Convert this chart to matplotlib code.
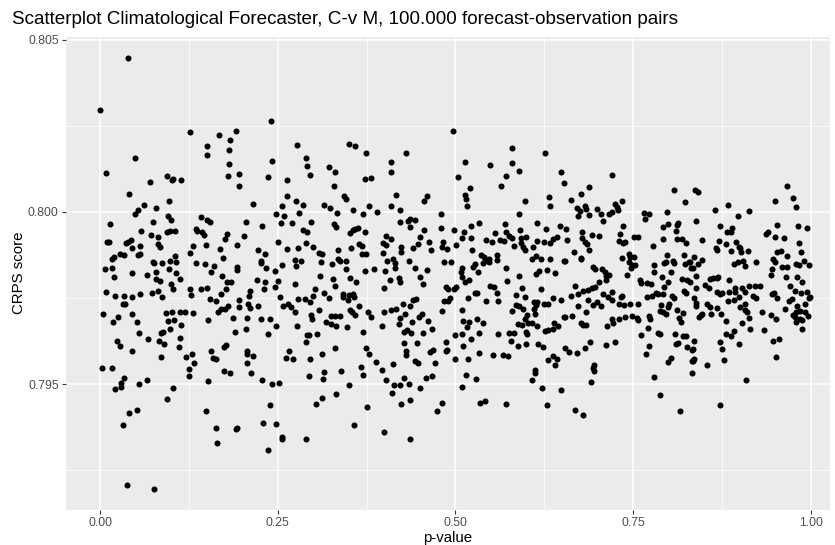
import matplotlib
matplotlib.use("Agg")
import matplotlib.pyplot as plt
from matplotlib.ticker import FixedLocator

plt.rcParams['font.family'] = ['Liberation Sans', 'DejaVu Sans']

title = "Scatterplot Climatological Forecaster, C-v M, 100.000 forecast-observation pairs"
x_label = "p-value"
y_label = "CRPS score"
x_ticks = [0.00, 0.25, 0.50, 0.75, 1.00]
x_tick_labels = ["0.00", "0.25", "0.50", "0.75", "1.00"]
y_ticks = [0.795, 0.800, 0.805]
y_tick_labels = ["0.795", "0.800", "0.805"]

# points, strip by strip (left to right)
p_a = [0.0389,0.0000,0.1267,0.0488,0.0080,0.0943,0.1009,0.1027,0.1145,0.0704,0.0404,0.0967,0.0624,0.0793,0.0530,0.0493,0.0141,0.0741,0.0952,0.1004,0.0577,0.0938,0.0985,0.1060,0.0099,0.0127,0.0361,0.0399,0.0436,0.0723,0.0812,0.0558,0.0451,0.0812,0.0845,0.0282,0.0338,0.0202,0.0165,0.0530,0.0568,0.1051,0.1262,0.0741,0.0765,0.0877,0.0985,0.1074,0.0066,0.0169,0.0455,0.0657,0.0788,0.0971,0.1065,
       0.0193,0.0788,0.0840,0.1126,0.1000,0.1028,0.1271,0.1281,0.0085,0.0216,0.0334,0.0451,0.0558,0.0737,0.0816,0.0873,0.0329,0.0347,0.0047,0.0188,0.0254,0.0446,0.0512,0.0929,0.1009,0.1121,0.1196,0.0952,0.1042,0.1140,0.0545,0.0671,0.0854,0.0887,0.0981,0.1126,0.0235,0.0282,0.0455,0.0831,0.0892,0.1103,0.0850,0.1215,0.1290,0.0029,0.0174,0.1248,0.1248,0.0338,0.0291,0.0291,0.0216,0.0554,0.0657,0.1028,0.0948,0.0526,0.0413,0.0324,0.0380,0.0755]
crps_a = [0.80447,0.80295,0.80232,0.80158,0.80113,0.80105,0.80093,0.80097,0.80092,0.80087,0.80053,0.80031,0.80020,0.80013,0.80005,0.79994,0.79966,0.79972,0.79988,0.79978,0.79945,0.79941,0.79946,0.79946,0.79913,0.79913,0.79909,0.79913,0.79918,0.79932,0.79926,0.79902,0.79896,0.79908,0.79898,0.79878,0.79874,0.79868,0.79862,0.79874,0.79877,0.79873,0.79880,0.79856,0.79851,0.79851,0.79859,0.79854,0.79835,0.79836,0.79823,0.79818,0.79825,0.79834,0.79823,
          0.79811,0.79805,0.79800,0.79806,0.79790,0.79776,0.79777,0.79759,0.79767,0.79755,0.79755,0.79752,0.79761,0.79765,0.79771,0.79752,0.79732,0.79734,0.79704,0.79681,0.79695,0.79704,0.79681,0.79707,0.79708,0.79710,0.79709,0.79682,0.79685,0.79671,0.79649,0.79631,0.79647,0.79650,0.79660,0.79633,0.79626,0.79610,0.79596,0.79624,0.79615,0.79607,0.79578,0.79580,0.79588,0.79548,0.79546,0.79543,0.79523,0.79518,0.79504,0.79490,0.79486,0.79500,0.79511,0.79489,0.79457,0.79426,0.79415,0.79382,0.79207,0.79195]

p_b = [0.2411,0.1670,0.1905,0.1834,0.1811,0.1497,0.1497,0.1820,0.2773,0.2899,0.2918,0.2951,0.2421,0.2360,0.2632,0.1806,0.1952,0.1961,0.2149,0.2632,0.2758,0.2857,0.2566,0.2801,0.2472,0.2590,0.2547,0.2693,0.2965,0.1426,0.1497,0.1553,0.2055,0.2271,0.1351,0.1365,0.1436,0.1459,0.1783,0.1755,0.2027,0.2852,0.2918,0.1309,0.1492,0.1684,0.1923,0.2219,0.2505,0.2632,0.2782,0.2899,0.3002,0.1731,0.2318,0.2257,0.2261,0.1351,0.1473,0.1600,0.1928,0.1924,0.1558,0.2336,0.2463,0.2561,0.2740,0.2820,0.2763,
       0.1717,0.1783,0.1848,0.2205,0.2327,0.2496,0.2744,0.3026,0.1422,0.1497,0.1769,0.1694,0.2111,0.2092,0.2308,0.2463,0.2529,0.1544,0.1633,0.1961,0.1956,0.1797,0.1698,0.1755,0.1652,0.2078,0.2111,0.2219,0.2571,0.2641,0.2679,0.2787,0.2885,0.2955,0.3002,0.2744,0.2974,0.2979,0.1309,0.1520,0.1872,0.2069,0.2266,0.2397,0.2477,0.2777,0.1900,0.2055,0.2360,0.2904,0.2937,0.3045,0.2890,0.1318,0.1562,0.1590,0.1633,0.1750,0.1773,0.2069,0.2069,0.2153,0.2060,0.2660,0.2618,0.2716,0.2960,0.1745,0.1825,0.2130,0.2941,0.1525,0.2271,0.2416,0.2519,0.2397,0.3035,0.1492,0.2294,0.2472,0.1628,0.1910,0.1924,0.2557,0.2566,0.2895,0.1647,0.2360]
crps_b = [0.80265,0.80223,0.80236,0.80209,0.80181,0.80193,0.80165,0.80140,0.80196,0.80158,0.80133,0.80107,0.80148,0.80103,0.80094,0.80105,0.80109,0.80077,0.80022,0.80047,0.80033,0.80021,0.80017,0.79998,0.79994,0.79988,0.79969,0.79969,0.79972,0.79986,0.79976,0.79971,0.79972,0.79958,0.79951,0.79945,0.79943,0.79932,0.79937,0.79921,0.79930,0.79947,0.79942,0.79902,0.79903,0.79892,0.79903,0.79891,0.79912,0.79893,0.79894,0.79911,0.79898,0.79866,0.79877,0.79858,0.79853,0.79852,0.79849,0.79844,0.79841,0.79831,0.79826,0.79836,0.79829,0.79847,0.79860,0.79859,0.79844,
          0.79814,0.79796,0.79798,0.79802,0.79798,0.79799,0.79792,0.79777,0.79777,0.79778,0.79777,0.79762,0.79769,0.79756,0.79776,0.79783,0.79752,0.79748,0.79740,0.79743,0.79725,0.79728,0.79718,0.79719,0.79708,0.79733,0.79720,0.79728,0.79727,0.79733,0.79724,0.79748,0.79746,0.79738,0.79755,0.79710,0.79700,0.79690,0.79707,0.79685,0.79691,0.79692,0.79689,0.79688,0.79670,0.79668,0.79652,0.79659,0.79646,0.79642,0.79643,0.79645,0.79622,0.79562,0.79597,0.79576,0.79573,0.79609,0.79614,0.79597,0.79587,0.79581,0.79560,0.79596,0.79575,0.79572,0.79574,0.79539,0.79531,0.79533,0.79522,0.79509,0.79513,0.79500,0.79504,0.79440,0.79443,0.79421,0.79388,0.79385,0.79372,0.79368,0.79372,0.79340,0.79347,0.79341,0.79330,0.79309]

p_c = [0.3509,0.3584,0.3748,0.4306,0.3223,0.3298,0.4086,0.4086,0.3734,0.3814,0.3284,0.4161,0.3434,0.3453,0.4606,0.4555,0.3152,0.3232,0.3340,0.3556,0.3701,0.3790,0.3903,0.4086,0.4226,0.3284,0.3317,0.3561,0.3523,0.3626,0.3593,0.3729,0.4226,0.4334,0.4367,0.4428,0.4367,0.4555,0.3077,0.3119,0.3349,0.3532,0.3645,0.3678,0.3687,0.3743,0.3978,0.4029,0.4025,0.4086,0.3987,0.4236,0.4231,0.4405,0.4466,0.4498,0.4625,0.4658,0.3105,0.3349,0.3382,0.3453,0.3265,0.3453,0.4043,0.4118,0.4151,0.4151,0.4344,0.4437,0.4606,0.3729,0.3856,0.4011,
       0.3096,0.3270,0.3302,0.3514,0.3603,0.4076,0.3992,0.4212,0.4217,0.4508,0.4545,0.3152,0.3227,0.3415,0.3424,0.3490,0.3509,0.3560,0.3575,0.3645,0.3082,0.3255,0.3298,0.3377,0.3514,0.3546,0.3593,0.3771,0.3818,0.3997,0.4095,0.4161,0.4259,0.4362,0.4405,0.4442,0.4292,0.4222,0.4484,0.4531,0.4386,0.4620,0.4203,0.3185,0.3251,0.3317,0.3476,0.3696,0.3964,0.4273,0.4320,0.4377,0.4541,0.4667,0.4269,0.4456,0.3129,0.3298,0.3743,0.3781,0.4297,0.4301,0.4635,0.4681,0.3875,0.4128,0.4433,0.4470,0.4714,0.3148,0.3138,0.3396,0.3673,0.3701,0.3969,0.4025,0.4142,0.4226,0.4348,0.4269,0.4592,0.4672,0.4508,0.3509,0.4104,0.3321,0.3124,0.3757,0.4231,0.4362,0.4742,0.3570,0.4001,0.4362]
crps_c = [0.80198,0.80192,0.80170,0.80171,0.80131,0.80117,0.80144,0.80116,0.80095,0.80100,0.80077,0.80050,0.80046,0.80037,0.80047,0.80032,0.80020,0.80013,0.79997,0.80006,0.79993,0.80016,0.80001,0.80018,0.80005,0.79966,0.79956,0.79949,0.79939,0.79954,0.79950,0.79941,0.79971,0.79974,0.79979,0.79977,0.79956,0.79948,0.79880,0.79878,0.79890,0.79894,0.79908,0.79902,0.79878,0.79879,0.79910,0.79903,0.79929,0.79922,0.79882,0.79899,0.79885,0.79895,0.79907,0.79927,0.79912,0.79889,0.79856,0.79862,0.79857,0.79858,0.79850,0.79835,0.79859,0.79863,0.79851,0.79838,0.79857,0.79837,0.79830,0.79829,0.79835,0.79829,
          0.79813,0.79804,0.79786,0.79808,0.79797,0.79802,0.79780,0.79809,0.79797,0.79810,0.79790,0.79764,0.79749,0.79761,0.79754,0.79744,0.79758,0.79761,0.79754,0.79727,0.79716,0.79699,0.79699,0.79697,0.79716,0.79708,0.79700,0.79709,0.79696,0.79708,0.79715,0.79718,0.79734,0.79727,0.79743,0.79746,0.79704,0.79691,0.79696,0.79703,0.79681,0.79684,0.79674,0.79681,0.79674,0.79670,0.79665,0.79651,0.79670,0.79651,0.79656,0.79647,0.79648,0.79659,0.79619,0.79618,0.79588,0.79605,0.79605,0.79587,0.79596,0.79584,0.79593,0.79599,0.79565,0.79558,0.79568,0.79562,0.79562,0.79536,0.79515,0.79539,0.79549,0.79526,0.79540,0.79513,0.79497,0.79496,0.79501,0.79518,0.79517,0.79524,0.79488,0.79496,0.79475,0.79472,0.79460,0.79434,0.79442,0.79455,0.79423,0.79380,0.79362,0.79339]

p_d = [0.4963,0.5798,0.6253,0.5136,0.5483,0.5798,0.5901,0.5033,0.5713,0.5634,0.6492,0.6529,0.5211,0.5136,0.5150,0.5169,0.5981,0.6323,0.6333,0.4799,0.5892,0.4794,0.4986,0.5122,0.5225,0.5329,0.5690,0.5563,0.5713,0.6154,0.6267,0.6468,0.4831,0.4808,0.4883,0.5010,0.5089,0.5225,0.5230,0.5432,0.5516,0.5624,0.5676,0.5760,0.5793,0.5821,0.5910,0.5929,0.5995,0.5924,0.5953,0.5981,0.6093,0.6149,0.6239,0.6337,0.6375,0.6431,0.4841,0.4944,0.5244,0.5272,0.5315,0.5357,0.5399,0.5432,0.5474,0.5469,0.5390,0.5582,0.5587,0.5709,0.6074,0.6131,0.6201,0.6337,0.6534,0.5089,0.5071,0.6135,0.6182,0.6290,0.6398,
       0.5089,0.5896,0.5136,0.5197,0.5723,0.4860,0.4892,0.4977,0.5014,0.5268,0.5305,0.5493,0.5540,0.5582,0.5934,0.6210,0.4841,0.4897,0.4930,0.5183,0.5432,0.5601,0.5854,0.5981,0.4813,0.5089,0.5802,0.5845,0.5901,0.5957,0.6009,0.6103,0.6145,0.6140,0.6112,0.6126,0.6248,0.6300,0.6375,0.6482,0.6534,0.5108,0.5197,0.5169,0.5305,0.5390,0.5877,0.5938,0.5985,0.6018,0.6074,0.6145,0.6257,0.6304,0.6379,0.6389,0.6445,0.4996,0.5099,0.5216,0.5329,0.5601,0.5755,0.5826,0.5990,0.6004,0.5779,0.4864,0.5104,0.5877,0.5995,0.6164,0.6229,0.4878,0.4869,0.4996,0.5179,0.5329,0.5535,0.5666,0.5741,0.6309,0.6375,0.6422,0.6398,0.6117,0.6126,0.6079,0.5146,0.5296,0.6215,0.6487,0.5099,0.4817,0.5343,0.5413,0.5718,0.6286]
crps_d = [0.80234,0.80186,0.80170,0.80145,0.80138,0.80142,0.80120,0.80101,0.80104,0.80076,0.80116,0.80083,0.80070,0.80050,0.80039,0.80018,0.80031,0.80044,0.80016,0.79994,0.79995,0.79953,0.79948,0.79942,0.79959,0.79969,0.79966,0.79939,0.79943,0.79967,0.79950,0.79959,0.79913,0.79897,0.79893,0.79903,0.79923,0.79923,0.79889,0.79919,0.79913,0.79918,0.79916,0.79930,0.79924,0.79901,0.79948,0.79924,0.79926,0.79909,0.79898,0.79890,0.79899,0.79915,0.79913,0.79910,0.79921,0.79926,0.79856,0.79854,0.79840,0.79848,0.79827,0.79874,0.79868,0.79860,0.79862,0.79854,0.79853,0.79875,0.79860,0.79837,0.79862,0.79872,0.79862,0.79864,0.79858,0.79838,0.79825,0.79819,0.79829,0.79831,0.79824,
          0.79812,0.79815,0.79796,0.79802,0.79800,0.79781,0.79777,0.79776,0.79783,0.79766,0.79764,0.79786,0.79783,0.79766,0.79778,0.79776,0.79741,0.79741,0.79749,0.79750,0.79740,0.79742,0.79759,0.79754,0.79711,0.79715,0.79713,0.79731,0.79727,0.79718,0.79701,0.79738,0.79738,0.79730,0.79718,0.79705,0.79734,0.79734,0.79751,0.79745,0.79694,0.79684,0.79681,0.79667,0.79689,0.79676,0.79674,0.79672,0.79688,0.79678,0.79676,0.79668,0.79653,0.79657,0.79659,0.79678,0.79670,0.79642,0.79645,0.79630,0.79649,0.79646,0.79647,0.79649,0.79650,0.79646,0.79624,0.79621,0.79610,0.79612,0.79617,0.79615,0.79609,0.79598,0.79595,0.79574,0.79574,0.79589,0.79584,0.79585,0.79582,0.79569,0.79581,0.79574,0.79554,0.79540,0.79533,0.79513,0.79525,0.79515,0.79489,0.79482,0.79492,0.79446,0.79445,0.79450,0.79443,0.79438]

p_e = [0.7200,0.6881,0.6768,0.6628,0.6707,0.6754,0.6726,0.6820,0.6834,0.6872,0.6998,0.7050,0.7069,0.7167,0.7209,0.7238,0.7270,0.7294,0.7345,0.8077,0.8227,0.7646,0.7721,0.7669,0.7979,0.6557,0.6576,0.6783,0.6787,0.6825,0.6848,0.6881,0.6923,0.7026,0.6665,0.6764,0.6768,0.6543,0.7364,0.7322,0.7303,0.7360,0.7383,0.7510,0.7575,0.7777,0.7922,0.7988,0.8138,0.8124,0.8110,0.7922,0.8119,0.8194,0.8237,0.7350,0.7435,0.7449,0.7519,0.7439,0.7477,0.7533,0.7472,0.6942,0.6961,0.7064,0.7111,0.7800,0.7791,0.7932,0.7965,0.7979,0.8058,0.8068,0.8213,0.8227,0.8279,0.8307,0.8321,0.8026,
       0.7125,0.7158,0.7420,0.7903,0.6684,0.6632,0.6726,0.6801,0.6858,0.6928,0.6965,0.7022,0.7125,0.7603,0.7617,0.7697,0.7749,0.7993,0.7936,0.8185,0.8251,0.8307,0.6858,0.6731,0.6942,0.6989,0.7050,0.7069,0.7153,0.7200,0.7200,0.7327,0.7350,0.7303,0.7369,0.7458,0.7575,0.7693,0.7768,0.7815,0.7847,0.7918,0.8044,0.8082,0.8218,0.8237,0.7894,0.8007,0.7988,0.6839,0.6539,0.6642,0.6773,0.6797,0.6839,0.7134,0.7209,0.7214,0.7299,0.7383,0.7486,0.7552,0.7566,0.7725,0.7744,0.7885,0.7918,0.7969,0.8119,0.8199,0.8143,0.8176,0.7711,0.7608,0.7843,0.7876,0.8087,0.8204,0.8237,0.6543,0.6600,0.6707,0.6829,0.6890,0.7116,0.7242,0.7730,0.7688,0.8101,0.8138,0.8260,0.8335,0.7988,0.8030,0.8326,0.6947,0.6937,0.6947,0.6909,0.8330,0.7796,0.7871,0.6689,0.6801,0.8157]
crps_e = [0.80108,0.80073,0.80053,0.80034,0.80012,0.80002,0.79988,0.80018,0.80008,0.79992,0.80008,0.79994,0.79973,0.79994,0.80001,0.80022,0.80015,0.80006,0.80033,0.80065,0.80028,0.79996,0.79995,0.79980,0.80001,0.79952,0.79920,0.79942,0.79923,0.79914,0.79906,0.79889,0.79934,0.79930,0.79883,0.79866,0.79862,0.79857,0.79958,0.79936,0.79916,0.79910,0.79913,0.79927,0.79928,0.79902,0.79956,0.79966,0.79968,0.79962,0.79946,0.79922,0.79922,0.79921,0.79909,0.79865,0.79878,0.79870,0.79869,0.79854,0.79845,0.79846,0.79838,0.79840,0.79833,0.79833,0.79825,0.79845,0.79825,0.79851,0.79854,0.79875,0.79858,0.79851,0.79876,0.79850,0.79854,0.79856,0.79837,0.79825,
          0.79814,0.79817,0.79816,0.79812,0.79785,0.79755,0.79761,0.79770,0.79773,0.79778,0.79781,0.79796,0.79803,0.79802,0.79793,0.79793,0.79791,0.79796,0.79783,0.79804,0.79802,0.79796,0.79745,0.79728,0.79731,0.79739,0.79728,0.79761,0.79754,0.79768,0.79744,0.79752,0.79757,0.79733,0.79729,0.79732,0.79732,0.79752,0.79756,0.79765,0.79761,0.79763,0.79757,0.79749,0.79770,0.79764,0.79731,0.79734,0.79725,0.79709,0.79694,0.79699,0.79678,0.79671,0.79671,0.79668,0.79690,0.79676,0.79689,0.79696,0.79697,0.79693,0.79686,0.79697,0.79690,0.79711,0.79708,0.79705,0.79715,0.79707,0.79693,0.79679,0.79664,0.79644,0.79647,0.79646,0.79646,0.79641,0.79641,0.79606,0.79592,0.79590,0.79606,0.79621,0.79613,0.79623,0.79611,0.79588,0.79616,0.79620,0.79609,0.79600,0.79564,0.79575,0.79567,0.79555,0.79547,0.79539,0.79506,0.79533,0.79520,0.79468,0.79424,0.79409,0.79423]

p_f = [0.8377,0.8410,0.9658,0.9756,0.9789,0.9498,0.8828,0.8654,0.8978,0.9128,0.8391,0.8729,0.8823,0.8879,0.8889,0.8466,0.8710,0.8804,0.8954,0.8996,0.9010,0.9020,0.9123,0.8870,0.8663,0.8673,0.9367,0.9395,0.9498,0.9531,0.9616,0.9817,0.9944,0.9831,0.9864,0.9522,0.9583,0.9667,0.8354,0.8466,0.8419,0.8344,0.8926,0.8982,0.9043,0.9067,0.9231,0.9461,0.9494,0.9592,0.9658,0.9451,0.9789,0.9831,0.9906,0.9981,
       0.8382,0.8588,0.8626,0.8673,0.8696,0.8851,0.9442,0.9653,0.9803,0.9883,0.9714,0.9775,0.9855,0.9953,0.9991,0.8518,0.8565,0.8391,0.8673,0.8724,0.8753,0.8851,0.8935,0.8931,0.9029,0.9081,0.9132,0.9212,0.9287,0.9189,0.9222,0.8987,0.8921,0.8828,0.8363,0.8391,0.8387,0.8537,0.8579,0.8682,0.9001,0.9071,0.9071,0.9100,0.9132,0.9025,0.9311,0.9437,0.9517,0.9343,0.9146,0.8804,0.8598,0.8734,0.8424,0.8466,0.8452,0.9451,0.9479,0.9522,0.9700,0.9733,0.9630,0.9803,0.9850,0.9925,0.9981,0.9756,0.9798,0.9784,0.9845,0.9883,0.9916,0.9963,0.9789,0.9873,0.8813,0.8884,0.8926,0.8363,0.8340,0.8358,0.8340,0.8537,0.8720,0.8753,0.8781,0.8992,0.9475,0.9555,0.9512,0.9090,0.8724]
crps_f = [0.80065,0.80059,0.80076,0.80042,0.80014,0.80031,0.80021,0.80006,0.79989,0.80003,0.79973,0.79959,0.79941,0.79942,0.79954,0.79918,0.79917,0.79906,0.79912,0.79899,0.79894,0.79883,0.79887,0.79887,0.79895,0.79890,0.79937,0.79941,0.79926,0.79961,0.79924,0.79959,0.79953,0.79910,0.79883,0.79884,0.79887,0.79873,0.79868,0.79861,0.79848,0.79836,0.79848,0.79856,0.79857,0.79842,0.79854,0.79862,0.79856,0.79841,0.79839,0.79834,0.79848,0.79847,0.79857,0.79847,
          0.79814,0.79805,0.79809,0.79809,0.79811,0.79803,0.79816,0.79810,0.79810,0.79797,0.79785,0.79771,0.79765,0.79767,0.79752,0.79789,0.79780,0.79780,0.79767,0.79762,0.79766,0.79767,0.79780,0.79767,0.79780,0.79767,0.79784,0.79786,0.79784,0.79756,0.79749,0.79754,0.79743,0.79742,0.79751,0.79736,0.79726,0.79734,0.79724,0.79721,0.79725,0.79734,0.79714,0.79708,0.79691,0.79676,0.79708,0.79702,0.79688,0.79658,0.79661,0.79683,0.79705,0.79705,0.79694,0.79705,0.79700,0.79763,0.79764,0.79751,0.79741,0.79746,0.79718,0.79727,0.79713,0.79732,0.79751,0.79702,0.79708,0.79694,0.79689,0.79686,0.79709,0.79697,0.79679,0.79661,0.79646,0.79640,0.79654,0.79625,0.79601,0.79573,0.79567,0.79556,0.79623,0.79601,0.79569,0.79616,0.79625,0.79631,0.79579,0.79513,0.79440]

p_value = p_a + p_b + p_c + p_d + p_e + p_f
crps = crps_a + crps_b + crps_c + crps_d + crps_e + crps_f

W, H = 835, 545
fig = plt.figure(figsize=(W / 100, H / 100), dpi=100)
fig.patch.set_facecolor("white")
ax = fig.add_axes([66 / W, 1 - 510 / H, (830 - 66) / W, (510 - 36.5) / H])
ax.set_facecolor("#EBEBEB")
for s in ax.spines.values():
    s.set_visible(False)

ax.set_xlim(-0.048, 1.027)
ax.set_ylim(0.79134, 0.8051)

ax.xaxis.set_major_locator(FixedLocator(x_ticks))
ax.set_xticklabels(x_tick_labels)
ax.yaxis.set_major_locator(FixedLocator(y_ticks))
ax.set_yticklabels(y_tick_labels)
ax.xaxis.set_minor_locator(FixedLocator([0.125, 0.375, 0.625, 0.875]))
ax.yaxis.set_minor_locator(FixedLocator([0.7925, 0.7975, 0.8025]))

ax.grid(which="major", color="white", linewidth=1.1)
ax.grid(which="minor", color="white", linewidth=0.55)
ax.set_axisbelow(True)
ax.tick_params(which="major", length=2.8, width=0.8, color="#333333",
               labelcolor="#4D4D4D", labelsize=8.8, pad=2.5)
ax.tick_params(which="minor", length=0)

ax.scatter(p_value, crps, s=19, color="black", linewidths=0, zorder=3)

fig.text(12 / W, 1 - 19 / H, title, fontsize=13.6, color="black", ha="left", va="center")
fig.text(448 / W, 1 - 538 / H, x_label, fontsize=10.8, ha="center", va="center")
fig.text(19 / W, 1 - 273 / H, y_label, fontsize=10.8, ha="center", va="center", rotation=90)

fig.savefig("out.png", dpi=100)
